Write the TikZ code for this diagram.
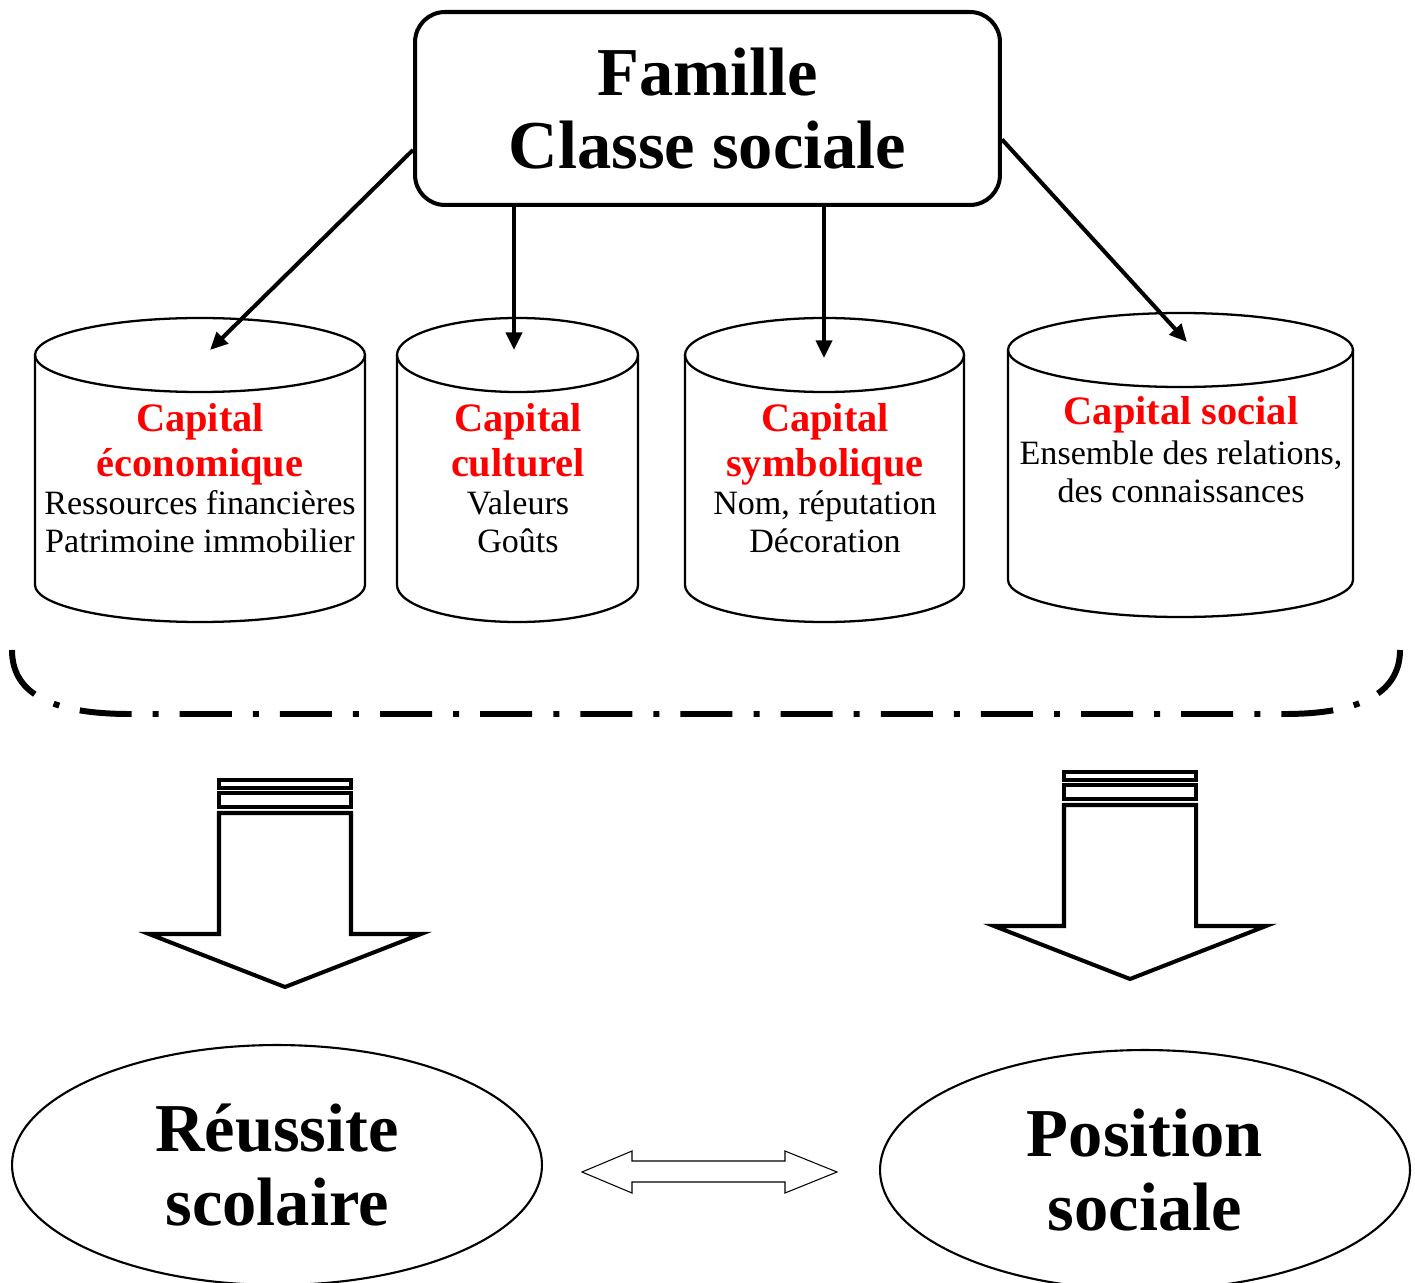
\documentclass[tikz,border=0pt]{standalone}
\usepackage{fontspec}
\setmainfont{Liberation Serif}
\usetikzlibrary{arrows.meta,positioning,shapes.geometric}
\definecolor{capred}{RGB}{255,0,0}
\newcommand\famfont{\fontsize{39}{42}\selectfont\bfseries}
\newcommand\capfont{\fontsize{23}{25.6}\selectfont\bfseries\color{capred}}
\newcommand\descfont{\fontsize{19.4}{21.6}\selectfont}

\tikzset{
  topbox/.style={draw, line width=2.3pt, rounded corners=0.6cm, minimum width=11.7cm,
    minimum height=3.86cm, align=center, font=\famfont},
  cylline/.style={line width=1.3pt},
  conn/.style={->, line width=2.3pt},
  brace/.style={line width=3.4pt, dash pattern=on 29.6pt off 12pt on 3.4pt off 12pt},
  blockarrow/.style={line width=2.3pt, line join=miter},
  goal/.style={draw, ellipse, line width=1.2pt, minimum width=10.6cm, minimum height=4.8cm,
    inner sep=0pt, align=center, font=\famfont},
  captitle/.style={align=center, font=\capfont, inner sep=0pt},
  capdesc/.style={align=center, font=\descfont, inner sep=0pt}
}

\begin{document}
\begin{tikzpicture}[x=0.02cm, y=0.02cm, >={Triangle[length=10pt,width=9pt]}]
\useasboundingbox (0,0) rectangle (1415,-1283);

\node[topbox] (famille) at (707.5,-108.5) {Famille\\Classe sociale};

% cylinders
\foreach \n/\xl/\xr/\yt in {1/35/365/355, 2/397/638/355, 3/685/964/355, 4/1008/1353/350}{
  \pgfmathsetmacro\cx{(\xl+\xr)/2}
  \pgfmathsetmacro\rx{(\xr-\xl)/2}
  \draw[cylline] (\xl,-\yt) -- (\xl,-\yt-230)
    arc[start angle=180, end angle=360, x radius=\rx, y radius=37] -- (\xr,-\yt);
  \draw[cylline] (\cx,-\yt) ellipse[x radius=\rx, y radius=37];
}

\node[captitle] (eco) at (200,-444) {Capital\\économique};
\node[capdesc] (ecotxt) at (200,-522) {Ressources financières\\Patrimoine immobilier};
\node[captitle] (cult) at (518,-440) {Capital\\culturel};
\node[capdesc] (culttxt) at (518,-522) {Valeurs\\Goûts};
\node[captitle] (symb) at (825,-444) {Capital\\symbolique};
\node[capdesc] (symbtxt) at (825,-522) {Nom, réputation\\Décoration};
\node[captitle] (soc) at (1181,-415) {Capital social};
\node[capdesc] (soctxt) at (1181,-472) {Ensemble des relations,\\des connaissances};

% arrow ends
\coordinate (e1) at (210,-350);
\coordinate (e2) at (514,-350);
\coordinate (e3) at (824,-358);
\coordinate (e4) at (1187,-342);
\draw[conn] (famille.188) -- (e1);
\draw[conn] (famille.south -| e2) -- (e2);
\draw[conn] (famille.south -| e3) -- (e3);
\draw[conn] (famille.354) -- (e4);

% dash-dot bracket
\draw[brace] (12,-650) .. controls (12,-690) and (45,-714) .. (130,-714) -- (1285,-714)
  .. controls (1365,-714) and (1400,-690) .. (1400,-650);

% block arrows
\foreach \cx/\yt in {285/780, 1130/772}{
  \draw[blockarrow] (\cx-66,-\yt) rectangle (\cx+66,-\yt-8);
  \draw[blockarrow] (\cx-66,-\yt-13) rectangle (\cx+66,-\yt-27);
  \draw[blockarrow] (\cx-66,-\yt-33) -- (\cx-66,-\yt-154) -- (\cx-136,-\yt-154)
    -- (\cx,-\yt-207) -- (\cx+136,-\yt-154) -- (\cx+66,-\yt-154) -- (\cx+66,-\yt-33) -- cycle;
}

\node[goal] (reussite) at (277,-1165) {Réussite\\scolaire};
\node[goal] (position) at (1145,-1170) {Position\\sociale};

% double arrow
\draw[line width=0.6pt] (582,-1172) -- (632,-1151) -- (632,-1161) -- (785,-1161) -- (785,-1151)
  -- (837,-1172) -- (785,-1193) -- (785,-1182) -- (632,-1182) -- (632,-1193) -- cycle;
\end{tikzpicture}
\end{document}
